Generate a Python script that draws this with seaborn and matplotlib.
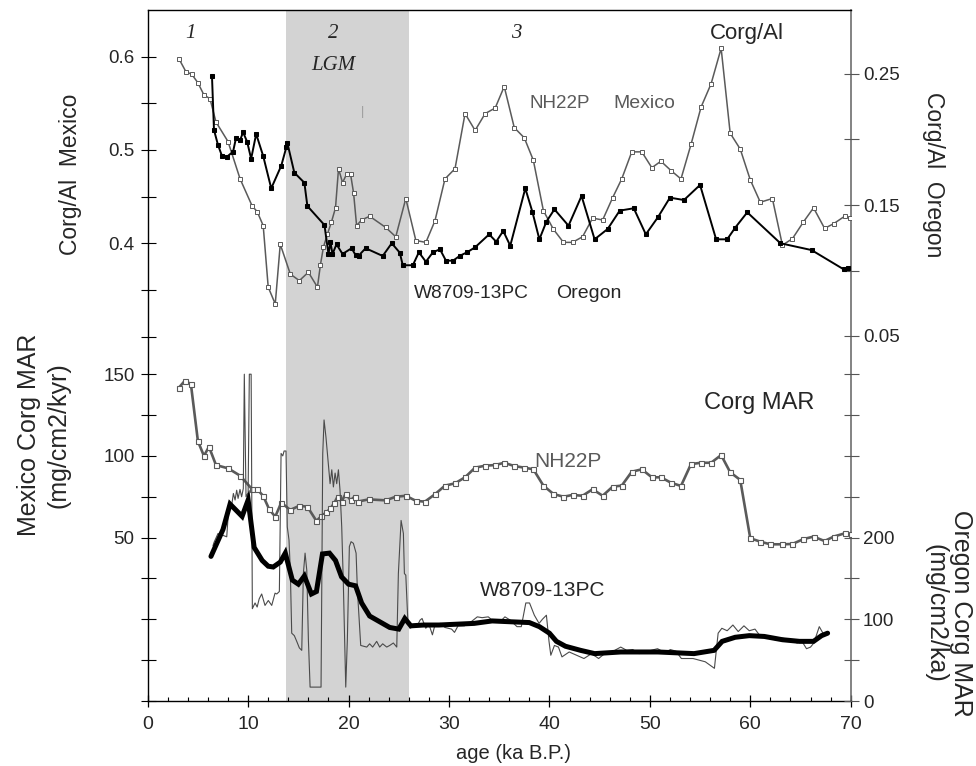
import numpy as np
import pandas as pd
import matplotlib
matplotlib.use("Agg")
import matplotlib.pyplot as plt
import seaborn as sns

# ---------------- data ----------------
# Corg/Al, NH22P (Mexico) - left top axis
nh_al_age = [3.1, 3.8, 4.4, 5.0, 5.6, 6.2, 6.8, 8.0, 9.2, 10.4,
             10.9, 11.5, 12.0, 12.7, 13.2, 14.2, 15.1, 16.0, 16.9, 17.2,
             17.5, 17.9, 18.3, 18.7, 19.0, 19.4, 19.8, 20.2, 20.5, 20.8,
             21.3, 22.1, 23.7, 24.7, 25.7, 26.7, 27.7, 28.6, 29.6, 30.6,
             31.6, 32.6, 33.6, 34.6, 35.5, 36.5, 37.5, 38.4, 39.4, 40.4,
             41.4, 42.3, 43.3, 44.3, 45.3, 46.3, 47.2, 48.2, 49.2, 50.2,
             51.1, 52.1, 53.1, 54.1, 55.1, 56.1, 57.1, 58.0, 59.0, 60.0,
             61.0, 62.2, 63.2, 64.2, 65.3, 66.3, 67.4, 68.3, 69.4, 69.9]
nh_al_val = [0.598, 0.584, 0.581, 0.572, 0.559, 0.555, 0.530, 0.509, 0.469, 0.440,
             0.434, 0.419, 0.353, 0.335, 0.399, 0.367, 0.360, 0.369, 0.353, 0.377,
             0.396, 0.410, 0.423, 0.438, 0.480, 0.465, 0.474, 0.474, 0.454, 0.419,
             0.425, 0.429, 0.417, 0.407, 0.448, 0.403, 0.401, 0.424, 0.469, 0.480,
             0.539, 0.521, 0.539, 0.545, 0.568, 0.524, 0.513, 0.489, 0.435, 0.415,
             0.401, 0.401, 0.407, 0.427, 0.425, 0.449, 0.469, 0.498, 0.498, 0.481,
             0.488, 0.478, 0.469, 0.506, 0.546, 0.571, 0.609, 0.518, 0.501, 0.468,
             0.444, 0.448, 0.398, 0.405, 0.423, 0.438, 0.416, 0.421, 0.429, 0.427]

# Corg/Al, W8709-13PC (Oregon) - right top axis
or_al_age = [6.4, 6.6, 7.0, 7.4, 7.9, 8.5, 8.8, 9.2, 9.5, 9.9,
             10.3, 10.8, 11.5, 12.3, 13.3, 13.8, 13.9, 14.6, 15.6, 15.9,
             17.6, 18.0, 18.2, 18.4, 18.8, 19.4, 20.3, 20.7, 21.0, 21.7,
             23.4, 24.3, 25.1, 25.4, 26.4, 27.0, 27.7, 28.4, 29.1, 29.7,
             30.4, 31.1, 31.8, 32.6, 34.0, 34.7, 35.4, 36.1, 37.6, 38.3,
             39.0, 39.7, 40.5, 41.9, 43.2, 44.5, 45.8, 47.0, 48.4, 49.6,
             50.8, 52.0, 53.4, 55.0, 56.6, 57.7, 58.5, 59.7, 63.0, 66.1,
             69.3, 69.7]
or_al_val = [0.2485, 0.2073, 0.1958, 0.1874, 0.1869, 0.1907, 0.2014, 0.1996, 0.2055, 0.1983,
             0.1853, 0.2042, 0.1874, 0.1627, 0.1800, 0.1940, 0.1976, 0.1747, 0.1670, 0.1492,
             0.1347, 0.1126, 0.1215, 0.1126, 0.1200, 0.1126, 0.1170, 0.1118, 0.1113, 0.1170,
             0.1111, 0.1208, 0.1136, 0.1040, 0.1040, 0.1139, 0.1067, 0.1139, 0.1162, 0.1075,
             0.1075, 0.1113, 0.1139, 0.1177, 0.1276, 0.1220, 0.1302, 0.1189, 0.1627, 0.1449,
             0.1238, 0.1373, 0.1467, 0.1342, 0.1569, 0.1238, 0.1317, 0.1457, 0.1475, 0.1276,
             0.1406, 0.1556, 0.1538, 0.1653, 0.1238, 0.1238, 0.1327, 0.1444, 0.1208, 0.1156,
             0.1009, 0.1021]

# Corg MAR, NH22P (Mexico) - left bottom axis
nh_mar_age = [3.1, 3.7, 4.3, 5.0, 5.6, 6.1, 6.8, 8.0, 9.2, 10.4,
              10.9, 11.5, 12.1, 12.7, 13.3, 14.2, 15.1, 15.9, 16.8, 17.3,
              17.8, 18.2, 18.6, 18.9, 19.3, 19.7, 20.2, 20.6, 20.9, 22.0,
              23.7, 24.7, 25.7, 26.7, 27.6, 28.6, 29.6, 30.6, 31.6, 32.6,
              33.6, 34.6, 35.5, 36.5, 37.5, 38.4, 39.4, 40.4, 41.4, 42.3,
              43.3, 44.3, 45.3, 46.3, 47.2, 48.2, 49.2, 50.2, 51.1, 52.1,
              53.1, 54.1, 55.1, 56.1, 57.1, 58.0, 59.0, 60.0, 61.0, 62.0,
              63.2, 64.2, 65.3, 66.3, 67.4, 68.3, 69.4, 70.0]
nh_mar_val = [141.7, 146, 144, 109, 100, 105.6, 94.4, 92.4, 87.9, 79.6,
              79.6, 75.5, 67.3, 62.8, 71.4, 66.9, 69.5, 68.9, 60.2, 63.2,
              65.5, 67.9, 71.4, 75, 72, 76.7, 73, 75, 72, 73.4,
              72.8, 75, 75.6, 72.5, 72, 76.5, 81.8, 83.2, 86.9, 92.8,
              94, 94.4, 95.8, 93.8, 92.8, 91.8, 81.8, 76.7, 75, 76.1,
              75.6, 79.6, 75.6, 81.2, 81.8, 90.3, 91.8, 86.9, 86.9, 83.6,
              81.6, 95, 95.8, 95.8, 100.5, 90, 85.3, 49.6, 47.5, 45.9,
              45.9, 46.1, 49.1, 50.6, 47.9, 50.6, 52.6, 52]

# Corg MAR, W8709-13PC (Oregon) raw record - right bottom axis
or_raw_age = [6.5, 6.6, 7.0, 7.87, 8.03, 8.2, 8.37, 8.53, 8.7, 8.86, 9.0, 9.19, 9.35, 9.52,
              9.62, 9.79, 10.0, 10.12, 10.3, 10.42, 10.69, 10.9, 11.1, 11.35, 11.68, 12.01,
              12.35, 12.68, 12.85, 13.11, 13.28, 13.45, 13.58, 13.77, 13.9, 14.07, 14.2,
              14.34, 14.6, 14.84, 15.1, 15.34, 15.5, 15.67, 15.84, 16.0, 16.17, 17.26,
              17.43, 17.56, 17.75, 17.99, 18.16, 18.33, 18.49, 18.66, 18.82, 18.99, 19.15,
              19.32, 19.48, 19.72, 19.88, 20.08, 20.25, 20.48, 20.75, 20.88, 21.21, 21.5,
              21.81, 22.1, 22.4, 22.8, 23.1, 23.4, 23.8, 24.1, 24.46, 24.8, 24.96, 25.23,
              25.46, 25.56, 25.7, 25.9, 26.13, 26.5, 26.8, 27.12, 27.32, 27.69, 28.0,
              28.35, 28.6, 29.15, 29.6, 30.26, 30.55, 30.9, 31.53, 32.0, 32.82, 33.3,
              33.91, 34.5, 35.0, 35.57, 36.1, 36.77, 37.2, 37.65, 38.02, 38.5, 38.97,
              39.3, 39.7, 39.96, 40.14, 40.5, 40.9, 41.25, 41.97, 42.7, 43.44, 44.2,
              44.9, 45.5, 46.2, 47.1, 47.7, 48.3, 48.93, 49.8, 50.77, 51.5, 52.04, 52.6,
              53.14, 54.3, 55.52, 56.43, 56.8, 57.17, 57.7, 58.27, 58.8, 59.37, 59.9,
              60.47, 61.02, 61.7, 62.48, 63.2, 63.9, 64.67, 65.1, 65.6, 66.0, 66.33,
              66.87, 67.24]
or_raw_val = [190, 194, 205, 201, 230, 236, 240, 254, 246, 258, 248, 259, 250, 260,
              400, 250, 255, 400, 400, 113, 120, 115, 125, 131, 117, 123,
              117, 132, 131, 134, 303, 300, 306, 306, 213, 197, 160,
              83, 80, 73, 65, 62, 156, 181, 160, 75, 17, 17,
              303, 344, 323, 290, 266, 283, 262, 279, 266, 283, 258,
              213, 144, 17, 75, 189, 195, 193, 181, 136, 68, 67,
              66, 70, 66, 73, 66, 70, 66, 68, 71, 66, 156, 221,
              205, 156, 154, 99, 89, 92, 91, 99, 101, 89, 94,
              81, 93, 95, 90, 88, 84, 92, 92, 95, 103, 102,
              103, 97, 96, 103, 99, 91, 91, 120, 120, 105, 95,
              100, 105, 73, 56, 68, 66, 54, 60, 56, 52, 58,
              52, 58, 60, 66, 62, 63, 58, 61, 64, 59, 63, 61,
              52, 52, 48, 40, 83, 89, 86, 93, 85, 92, 86,
              88, 79, 77, 75, 77, 75, 71, 74, 64, 66, 71,
              91, 83]

# Corg MAR, W8709-13PC (Oregon) smoothed record - right bottom axis
or_smooth_age = [6.3, 7.5, 8.2, 9.4, 10.0, 10.6, 11.4, 12.0, 12.5, 13.2, 13.7, 14.4, 15.0,
                 15.6, 16.3, 16.8, 17.4, 18.1, 18.7, 19.3, 20.0, 20.7, 21.3, 22.1, 23.1,
                 24.1, 25.0, 25.6, 26.2, 27.5, 29.0, 32.5, 34.3, 36.1, 38.0, 39.0, 40.0,
                 40.7, 41.6, 43.1, 44.5, 47.1, 50.8, 54.4, 56.4, 57.2, 58.5, 59.9, 61.4,
                 63.2, 64.9, 66.3, 67.1, 67.7]
or_smooth_val = [177, 210, 241, 226, 246, 188, 172, 165, 164, 170, 181, 148, 143,
                 153, 131, 134, 180, 181, 172, 152, 143, 141, 120, 104, 97,
                 90, 88, 101, 92, 93, 93, 95, 98, 97, 96, 91, 83,
                 73, 67, 62, 58, 60, 60, 58, 62, 73, 78, 80, 79,
                 75, 73, 73, 80, 83]

lgm_span = (13.8, 26.0)

# axis ticks / labels
x_major = [0, 10, 20, 30, 40, 50, 60, 70]
x_minor = list(range(0, 71, 2))
tl_major, tl_labels, tl_minor = [0.4, 0.5, 0.6], ["0.4", "0.5", "0.6"], [0.3, 0.35, 0.45, 0.55]
tr_major, tr_labels, tr_minor = [0.05, 0.15, 0.25], ["0.05", "0.15", "0.25"], [0.1, 0.2]
bl_major, bl_labels, bl_minor = [50, 100, 150], ["50", "100", "150"], [-50, -25, 0, 25, 75, 125]
br_major, br_labels, br_minor = [0, 100, 200], ["0", "100", "200"], [50, 150, 250, 300, 350, 400]

# ---------------- figure ----------------
sns.set_style("ticks")
plt.rcParams['font.family'] = ['Liberation Sans', 'DejaVu Sans']

W, H = 976, 766
fig = plt.figure(figsize=(W / 100, H / 100), dpi=100)
L, R, T, B = 147.7, 850.7, 10.0, 701.0
ax = fig.add_axes([L / W, 1 - B / H, (R - L) / W, (B - T) / H])
ax.set_xlim(0, 70)
ax.set_ylim(0, 1)
ax.axvspan(lgm_span[0], lgm_span[1], color='#d3d3d3', lw=0, zorder=0)
ax.set_yticks([])
ax.set_xticks(x_major)
ax.set_xticks(x_minor, minor=True)
ax.tick_params(axis='x', which='major', direction='inout', length=8, width=0.9,
               pad=6.5, labelsize=14, color='black')
ax.tick_params(axis='x', which='minor', direction='in', length=3, width=0.8, color='black')
for s in ['left', 'top', 'bottom']:
    ax.spines[s].set_color('black')
    ax.spines[s].set_linewidth(1.0)
ax.spines['right'].set_color('#6e6e6e')
ax.spines['right'].set_linewidth(1.2)
ax.set_xlabel('age (ka B.P.)', fontsize=14.5)
ax.xaxis.set_label_coords((514 - L) / (R - L), -(744 - B) / (B - T))


def overlay(ylim, side, major, labels, minor, pad, tcolor):
    a = ax.twinx()
    a.set_ylim(*ylim)
    for s in a.spines.values():
        s.set_visible(False)
    if side == 'left':
        a.yaxis.tick_left()
    else:
        a.yaxis.tick_right()
    a.set_yticks(major)
    a.set_yticklabels(labels)
    a.set_yticks(minor, minor=True)
    a.tick_params(axis='y', which='both', direction='inout', length=10.8, width=0.8, color=tcolor)
    a.tick_params(axis='y', which='major', pad=pad, labelsize=13.5)
    return a


def ylim_from(v_ref, py_ref, px_per_unit):
    lo = v_ref - (B - py_ref) / px_per_unit
    hi = v_ref + (py_ref - T) / px_per_unit
    return lo, hi


axTL = overlay(ylim_from(0.4, 243.3, 933.0), 'left', tl_major, tl_labels, tl_minor, 4.0, 'black')
axTR = overlay(ylim_from(0.25, 74.0, 1310.0), 'right', tr_major, tr_labels, tr_minor, 3.5, '#555555')
axBL = overlay(ylim_from(0.0, 619.3, 1.634), 'left', bl_major, bl_labels, bl_minor, 4.0, 'black')
axBR = overlay(ylim_from(0.0, 701.0, 0.817), 'right', br_major, br_labels, br_minor, 3.5, '#555555')

grey = '#5a5a5a'

# Oregon MAR raw (thin) and smoothed (thick)
sns.lineplot(x=or_raw_age, y=or_raw_val, ax=axBR, color='#4a4a4a', lw=0.8,
             estimator=None, sort=False, zorder=2)
sns.lineplot(x=or_smooth_age, y=or_smooth_val, ax=axBR, color='black', lw=3.6,
             estimator=None, sort=False, zorder=3, solid_joinstyle='miter')

# Mexico MAR
sns.lineplot(x=nh_mar_age, y=nh_mar_val, ax=axBL, color=grey, lw=1.9,
             marker='s', markersize=3.6, markerfacecolor='white', markeredgecolor=grey,
             markeredgewidth=0.8, estimator=None, sort=False)

# Corg/Al
sns.lineplot(x=nh_al_age, y=nh_al_val, ax=axTL, color=grey, lw=1.1,
             marker='s', markersize=3.4, markerfacecolor='white', markeredgecolor=grey,
             markeredgewidth=0.7, estimator=None, sort=False)
sns.lineplot(x=or_al_age, y=or_al_val, ax=axTR, color='black', lw=1.4,
             marker='s', markersize=3.3, markerfacecolor='black', markeredgecolor='black',
             estimator=None, sort=False)

for a in (axTL, axTR, axBL, axBR):
    a.set_ylabel('')
    a.set_xlabel('')


def P(px, py):
    return px / W, 1 - py / H


serif = dict(family=['Liberation Serif', 'DejaVu Serif'], style='italic', fontsize=15,
             ha='center', va='center')
fig.text(*P(190.7, 33), '1', **serif)
fig.text(*P(333.3, 33), '2', **serif)
fig.text(*P(333.3, 65), 'LGM', **serif)
fig.text(*P(515.8, 33), '3', **serif)
fig.text(*P(362.7, 112), '|', color='#9a9a9a', fontsize=9, ha='center', va='center')

fig.text(*P(747, 34), 'Corg/Al', fontsize=16, ha='center', va='center')
fig.text(*P(560, 103.5), 'NH22P', fontsize=13.5, color=grey, ha='center', va='center')
fig.text(*P(644, 103.5), 'Mexico', fontsize=14, color=grey, ha='center', va='center')
fig.text(*P(471, 293.5), 'W8709-13PC', fontsize=13.8, ha='center', va='center')
fig.text(*P(588.6, 293.5), 'Oregon', fontsize=14, ha='center', va='center')

fig.text(*P(759, 403), 'Corg MAR', fontsize=17, ha='center', va='center')
fig.text(*P(567.7, 461.7), 'NH22P', fontsize=15, color=grey, ha='center', va='center')
fig.text(*P(543, 590), 'W8709-13PC', fontsize=15, ha='center', va='center')

fig.text(*P(70, 174), 'Corg/Al  Mexico', fontsize=16.5, rotation=90, ha='center', va='center')
fig.text(*P(933, 175), 'Corg/Al  Oregon', fontsize=16.5, rotation=270, ha='center', va='center')
fig.text(*P(43.5, 435), 'Mexico Corg MAR\n(mg/cm2/kyr)', fontsize=18, rotation=90,
         ha='center', va='center', multialignment='center', linespacing=1.3)
fig.text(*P(948, 613), 'Oregon Corg MAR\n(mg/cm2/ka)', fontsize=18, rotation=270,
         ha='center', va='center', multialignment='center', linespacing=1.1)

fig.savefig('out.png', dpi=100)
